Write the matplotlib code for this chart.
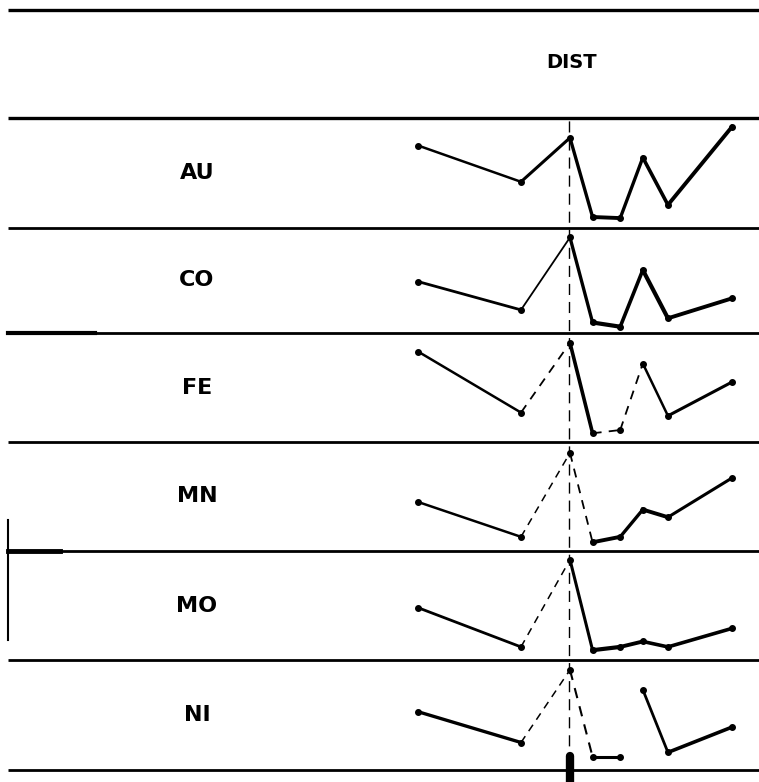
import matplotlib
matplotlib.use("Agg")
import matplotlib.pyplot as plt

# ---- data ----
header = "DIST"
elements = ["AU", "CO", "FE", "MN", "MO", "NI"]
distance = [0, 4.1, 6.05, 6.95, 8.05, 8.95, 9.95, 12.5]
AU = [75, 42, 82, 10, 9, 64, 21, 92]
CO = [49, 22, 91, 10, 6, 60, 14, 33]
FE = [83, 27, 91, 8, 11, 72, 24, 55]
MN = [45, 13, 90, 8, 13, 38, 31, 67]
MO = [48, 12, 92, 9, 12, 17, 12, 29]
NI = [53, 25, 91, 12, 12, 73, 16, 39]
series = [AU, CO, FE, MN, MO, NI]
marker_distance = 6.0

# ---- styles (segment line styles per row; None = not drawn) ----
S, D = "-", (0, (5, 4))
seg_styles = [
    [S, S, S, S, S, S, S],
    [S, S, S, S, S, S, S],
    [S, D, S, D, D, S, S],
    [S, D, D, S, S, S, S],
    [S, D, S, S, S, S, S],
    [S, D, D, S, None, S, S],
]
seg_widths = [
    [1.8, 2.2, 2.4, 2.8, 2.4, 2.6, 2.8],
    [2.0, 1.3, 2.4, 3.0, 2.6, 3.0, 2.8],
    [1.8, 1.3, 2.6, 1.3, 1.3, 1.8, 2.2],
    [1.8, 1.1, 1.3, 2.8, 2.4, 2.8, 2.2],
    [2.0, 1.1, 2.2, 3.0, 2.8, 2.6, 2.6],
    [2.4, 1.1, 1.5, 2.2, 1.0, 2.0, 2.6],
]

W, H = 759, 782
fig = plt.figure(figsize=(W / 100, H / 100), dpi=100)

# pixel overlay for table structure
ov = fig.add_axes([0, 0, 1, 1])
ov.set_xlim(0, W)
ov.set_ylim(H, 0)
ov.axis("off")

rules = [10, 118, 228, 333, 442, 551, 660, 770]
for i, y in enumerate(rules):
    ov.plot([8, W], [y, y], color="black", lw=2.4 if i in (0, 1) else 2.0,
            solid_capstyle="butt")
ov.plot([8, 8], [520, 640], color="black", lw=1.5)
ov.plot([8, 60], [551, 551], color="black", lw=3.5)
ov.plot([8, 95], [333, 333], color="black", lw=3.0)

ov.text(572, 63, header, ha="center", va="center", fontsize=14,
        fontweight="heavy", family="DejaVu Sans")

# x mapping: distance 0 -> px 418, 12.5 -> px 732
px0, px1 = 418.0, 732.0
scale = (px1 - px0) / (distance[-1] - distance[0])
xlim = (distance[0] - px0 / scale, distance[0] + (W - px0) / scale)

for i, (name, vals) in enumerate(zip(elements, series)):
    top, bot = rules[i + 1], rules[i + 2]
    ov.text(197, (top + bot) / 2, name, ha="center", va="center",
            fontsize=16, fontweight="heavy", family="DejaVu Sans")
    ax = fig.add_axes([0, 1 - bot / H, 1, (bot - top) / H])
    ax.set_xlim(*xlim)
    ax.set_ylim(0, 100)
    ax.axis("off")
    for k in range(len(distance) - 1):
        st = seg_styles[i][k]
        if st is None:
            continue
        ax.plot(distance[k:k + 2], vals[k:k + 2], color="black",
                lw=seg_widths[i][k], linestyle=st)
    ax.plot(distance, vals, linestyle="none", marker="o", ms=4,
            color="black")

# vertical dashed reference line
vax = fig.add_axes([0, 0, 1, 1 - 120 / H])
vax.set_xlim(*xlim)
vax.set_ylim(0, 1)
vax.axis("off")
vax.axvline(marker_distance, color="black", lw=1.0, linestyle=(0, (8, 5)))
vax.plot([marker_distance + 0.05] * 2, [0.0, 0.04], color="black", lw=6,
         solid_capstyle="round")

fig.savefig("out.png", dpi=100, facecolor="white")
